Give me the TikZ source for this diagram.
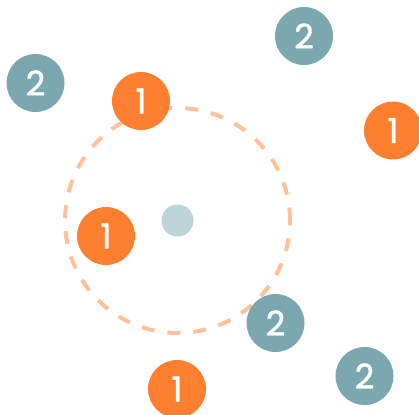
\documentclass[tikz,border=0pt]{standalone}
\usepackage{fontspec}
\setmainfont{Poppins}[FakeBold=1.3]
\definecolor{tealc}{HTML}{7BA7AE}
\definecolor{orangec}{HTML}{FF7F30}
\definecolor{dotc}{HTML}{BCD3D8}
\definecolor{peach}{HTML}{FFC09A}
\begin{document}
\begin{tikzpicture}[x=1pt,y=-1pt,
  badge/.style={circle,minimum size=58pt,inner sep=0pt,text=white,font=\fontsize{34}{34}\selectfont},
  one/.style={badge,fill=orangec},
  two/.style={badge,fill=tealc}]
\useasboundingbox (0,0) rectangle (419,414);
\node[circle,fill=dotc,minimum size=32pt,inner sep=0pt] (center) at (177.5,220.5) {};
\draw[peach,line width=4pt,dash pattern=on 13pt off 13pt] (center.center) circle[radius=112.5pt];
\node[two] (t1) at (35.5,83) {2};
\node[two] (t2) at (304,36) {2};
\node[one] (o1) at (141,101) {1};
\node[one] (o2) at (393,130.5) {1};
\node[one] (o3) at (106,236) {1};
\node[two] (t3) at (275.5,323) {2};
\node[one] (o4) at (177,389) {1};
\node[two] (t4) at (364.5,376) {2};
\end{tikzpicture}
\end{document}
